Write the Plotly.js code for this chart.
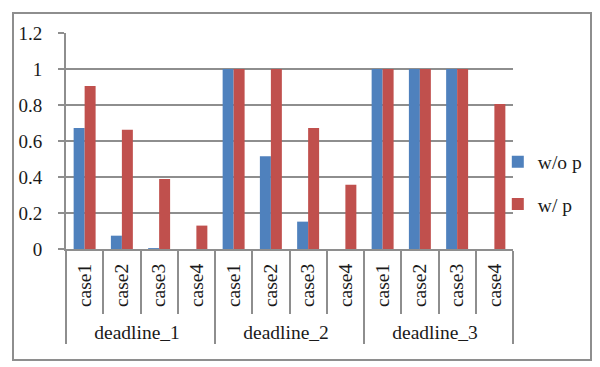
<!DOCTYPE html>
<html>
<head>
<meta charset="utf-8">
<script src="https://cdn.plot.ly/plotly-3.0.1.min.js"></script>
<style>
html,body{margin:0;padding:0;background:#fff;}
#wrap{position:relative;width:600px;height:367px;}
#chart{position:absolute;left:0;top:0;width:600px;height:367px;}
#frame{position:absolute;left:12px;top:12px;width:576px;height:345px;border:2px solid #8e8e8e;pointer-events:none;}
</style>
</head>
<body>
<div id="wrap"><div id="chart"></div><div id="frame"></div></div>
<script>
const groups = ['deadline_1','deadline_2','deadline_3'];
const cases = ['case1','case2','case3','case4'];
const withoutP = [0.672, 0.074, 0.005, 0, 1, 0.515, 0.152, 0, 1, 1, 1, 0];
const withP = [0.906, 0.663, 0.389, 0.13, 1, 1, 0.672, 0.357, 1, 1, 1, 0.806];
const seriesNames = ['w/o p','w/ p'];
const yTicks = [0, 0.2, 0.4, 0.6, 0.8, 1, 1.2];

const outerCat = [], innerCat = [];
groups.forEach(g => cases.forEach(c => { outerCat.push(g); innerCat.push(c); }));

const fontFam = 'Liberation Serif, Times New Roman, serif';
const gray = '#8e8e8e';

const traces = [
  {type:'bar', name:seriesNames[0], x:[outerCat, innerCat], y:withoutP,
   marker:{color:'#4f81bd'}, legendgroup:'a'},
  {type:'bar', name:seriesNames[1], x:[outerCat, innerCat], y:withP,
   marker:{color:'#c0504d'}, legendgroup:'b'}
];

const layout = {
  width:600, height:367,
  margin:{l:66, r:87, t:33, b:118, pad:0},
  paper_bgcolor:'#fff', plot_bgcolor:'#fff',
  font:{family:fontFam, size:19.5, color:'#1a1a1a'},
  barmode:'group', bargap:0.41, bargroupgap:0,
  showlegend:true,
  legend:{x:0.966, xanchor:'left', y:0.493, yanchor:'top', tracegroupgap:14,
          font:{family:fontFam, size:19.5, color:'#1a1a1a'}, bgcolor:'rgba(0,0,0,0)'},
  xaxis:{type:'multicategory', automargin:false,
         showline:true, linecolor:gray, linewidth:2,
         ticks:'outside', tickson:'boundaries', ticklen:63, tickcolor:gray, tickwidth:2,
         tickangle:-90, ticklabelstandoff:5,
         tickfont:{family:fontFam, size:19.5, color:'#1a1a1a'},
         showdividers:true, dividercolor:gray, dividerwidth:2,
         showgrid:false, zeroline:false},
  yaxis:{range:[0,1.2], tickvals:yTicks, ticktext:yTicks.map(String), automargin:false,
         showline:true, linecolor:gray, linewidth:2,
         ticks:'outside', ticklen:6, tickcolor:gray, tickwidth:2,
         ticklabelstandoff:12,
         tickfont:{family:fontFam, size:19, color:'#1a1a1a'},
         showgrid:true, gridcolor:gray, gridwidth:2, zeroline:false}
};

Plotly.newPlot('chart', traces, layout, {displayModeBar:false, staticPlot:true});
</script>
</body>
</html>
